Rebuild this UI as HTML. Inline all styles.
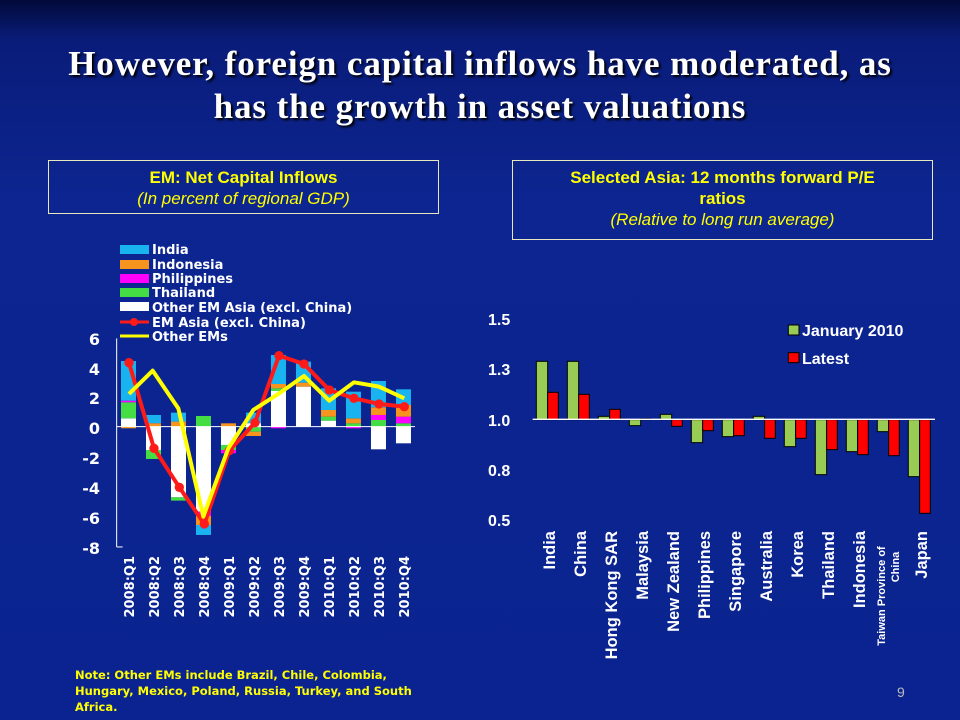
<!DOCTYPE html>
<html><head><meta charset="utf-8"><style>
html,body{margin:0;padding:0;width:960px;height:720px;overflow:hidden}
body{background:linear-gradient(180deg,#020a3a 0px,#0a1c7a 40px,#0c2590 200px,#0a2390 720px);position:relative;font-family:"Liberation Sans",sans-serif}
.t{position:absolute;left:0;width:960px;top:42px;text-align:center;font-family:"Liberation Serif",serif;font-weight:bold;font-size:35px;letter-spacing:0.9px;line-height:43px;color:#fff;text-shadow:2px 2px 2px #000}
.box{position:absolute;border:1px solid #e8e8c0;color:#ffff00;text-align:center;font-family:"Liberation Sans Narrow","Liberation Sans",sans-serif;font-size:17px;line-height:21px;font-weight:bold}
.box i{font-weight:normal}
</style></head><body>
<div class="t">However, foreign capital inflows have moderated, as<br>has the growth in asset valuations</div>
<div class="box" style="left:48px;top:160px;width:391px;height:54px;padding-top:6px;box-sizing:border-box">EM: Net Capital Inflows<br><i>(In percent of regional GDP)</i></div>
<div class="box" style="left:512px;top:160px;width:421px;height:80px;padding-top:6px;box-sizing:border-box">Selected Asia: 12 months forward P/E<br>ratios<br><i>(Relative to long run average)</i></div>
<svg width="960" height="720" style="position:absolute;left:0;top:0">
<g font-family="DejaVu Sans,sans-serif" font-weight="bold" font-size="13" fill="#fff">
<rect x="120" y="245" width="29" height="9" fill="#19b4f0"/><text x="152" y="254">India</text>
<rect x="120" y="260" width="29" height="9" fill="#f7941d"/><text x="152" y="269">Indonesia</text>
<rect x="120" y="274" width="29" height="9" fill="#ff00ff"/><text x="152" y="283">Philippines</text>
<rect x="120" y="288" width="29" height="9" fill="#44dd44"/><text x="152" y="297">Thailand</text>
<rect x="120" y="302" width="29" height="9" fill="#fff"/><text x="152" y="312">Other EM Asia (excl. China)</text>
<line x1="120" y1="322" x2="149" y2="322" stroke="#ff1a1a" stroke-width="3"/><circle cx="134" cy="322" r="4" fill="#ff1a1a"/><text x="152" y="327">EM Asia (excl. China)</text>
<line x1="120" y1="336" x2="149" y2="336" stroke="#ffff00" stroke-width="3"/><text x="152" y="341">Other EMs</text>
</g>
<g font-family="DejaVu Sans,sans-serif" font-weight="bold" font-size="16" fill="#fff" text-anchor="end">
<text x="100" y="345">6</text><text x="100" y="375">4</text><text x="100" y="404">2</text><text x="100" y="434">0</text><text x="100" y="464">-2</text><text x="100" y="494">-4</text><text x="100" y="524">-6</text><text x="100" y="554">-8</text>
</g>
<g transform="translate(60,240) scale(0.3333)">
<line x1="170" y1="295" x2="170" y2="921" stroke="#fff" stroke-width="3"/>
<line x1="170" y1="921" x2="188" y2="921" stroke="#fff" stroke-width="3"/>
<g>
<rect x="183" y="535" width="45" height="25" fill="#fff"/><rect x="183" y="487" width="45" height="48" fill="#44dd44"/><rect x="183" y="482" width="45" height="5" fill="#ff00ff"/><rect x="183" y="363" width="45" height="119" fill="#19b4f0"/><rect x="183" y="560" width="45" height="5" fill="#f7941d"/>
<rect x="258" y="525" width="45" height="25" fill="#19b4f0"/><rect x="258" y="550" width="45" height="10" fill="#f7941d"/><rect x="258" y="560" width="45" height="70" fill="#fff"/><rect x="258" y="630" width="45" height="27" fill="#44dd44"/>
<rect x="333" y="518" width="45" height="27" fill="#19b4f0"/><rect x="333" y="545" width="45" height="15" fill="#f7941d"/><rect x="333" y="560" width="45" height="212" fill="#fff"/><rect x="333" y="772" width="45" height="10" fill="#44dd44"/>
<rect x="408" y="528" width="45" height="32" fill="#44dd44"/><rect x="408" y="560" width="45" height="255" fill="#fff"/><rect x="408" y="815" width="45" height="13" fill="#ff00ff"/><rect x="408" y="828" width="45" height="27" fill="#f7941d"/><rect x="408" y="855" width="45" height="30" fill="#19b4f0"/>
<rect x="483" y="550" width="45" height="10" fill="#f7941d"/><rect x="483" y="560" width="45" height="55" fill="#fff"/><rect x="483" y="615" width="45" height="15" fill="#44dd44"/><rect x="483" y="630" width="45" height="10" fill="#ff00ff"/>
<rect x="558" y="518" width="45" height="32" fill="#19b4f0"/><rect x="558" y="550" width="45" height="10" fill="#fff"/><rect x="558" y="560" width="45" height="15" fill="#44dd44"/><rect x="558" y="575" width="45" height="13" fill="#f7941d"/>
<rect x="633" y="453" width="45" height="107" fill="#fff"/><rect x="633" y="445" width="45" height="8" fill="#44dd44"/><rect x="633" y="432" width="45" height="13" fill="#f7941d"/><rect x="633" y="345" width="45" height="87" fill="#19b4f0"/><rect x="633" y="560" width="45" height="5" fill="#ff00ff"/>
<rect x="708" y="440" width="45" height="120" fill="#fff"/><rect x="708" y="428" width="45" height="12" fill="#f7941d"/><rect x="708" y="365" width="45" height="63" fill="#19b4f0"/>
<rect x="783" y="542" width="45" height="18" fill="#fff"/><rect x="783" y="530" width="45" height="12" fill="#44dd44"/><rect x="783" y="510" width="45" height="20" fill="#f7941d"/><rect x="783" y="445" width="45" height="65" fill="#19b4f0"/>
<rect x="858" y="550" width="45" height="10" fill="#44dd44"/><rect x="858" y="535" width="45" height="15" fill="#f7941d"/><rect x="858" y="455" width="45" height="80" fill="#19b4f0"/><rect x="858" y="560" width="45" height="5" fill="#ff00ff"/>
<rect x="933" y="540" width="45" height="20" fill="#44dd44"/><rect x="933" y="525" width="45" height="15" fill="#ff00ff"/><rect x="933" y="502" width="45" height="23" fill="#f7941d"/><rect x="933" y="423" width="45" height="79" fill="#19b4f0"/><rect x="933" y="560" width="45" height="68" fill="#fff"/>
<rect x="1008" y="550" width="45" height="10" fill="#44dd44"/><rect x="1008" y="530" width="45" height="20" fill="#ff00ff"/><rect x="1008" y="495" width="45" height="35" fill="#f7941d"/><rect x="1008" y="448" width="45" height="47" fill="#19b4f0"/><rect x="1008" y="560" width="45" height="50" fill="#fff"/>
</g>
<line x1="170" y1="560" x2="1065" y2="560" stroke="#fff" stroke-width="3"/>
<polyline fill="none" stroke="#ff1a1a" stroke-width="12" stroke-linejoin="round" points="207,368 282,625 358,742 433,852 508,632 585,548 657,347 732,372 808,450 882,475 957,492 1033,500"/>
<g fill="#ff1a1a"><circle cx="207" cy="368" r="14"/><circle cx="282" cy="625" r="14"/><circle cx="358" cy="742" r="14"/><circle cx="433" cy="852" r="14"/><circle cx="508" cy="632" r="14"/><circle cx="585" cy="548" r="14"/><circle cx="657" cy="347" r="14"/><circle cx="732" cy="372" r="14"/><circle cx="808" cy="450" r="14"/><circle cx="882" cy="475" r="14"/><circle cx="957" cy="492" r="14"/><circle cx="1033" cy="500" r="14"/></g>
<polyline fill="none" stroke="#ffff00" stroke-width="12" stroke-linejoin="round" points="207,462 278,392 355,505 430,830 505,625 580,510 655,462 732,408 808,482 882,427 957,440 1033,475"/>
</g>
<g font-family="DejaVu Sans,sans-serif" font-weight="bold" font-size="13" fill="#fff" text-anchor="end">
<text transform="translate(134,556) rotate(-90)">2008:Q1</text>
<text transform="translate(159,556) rotate(-90)">2008:Q2</text>
<text transform="translate(184,556) rotate(-90)">2008:Q3</text>
<text transform="translate(209,556) rotate(-90)">2008:Q4</text>
<text transform="translate(234,556) rotate(-90)">2009:Q1</text>
<text transform="translate(259,556) rotate(-90)">2009:Q2</text>
<text transform="translate(284,556) rotate(-90)">2009:Q3</text>
<text transform="translate(309,556) rotate(-90)">2009:Q4</text>
<text transform="translate(334,556) rotate(-90)">2010:Q1</text>
<text transform="translate(359,556) rotate(-90)">2010:Q2</text>
<text transform="translate(384,556) rotate(-90)">2010:Q3</text>
<text transform="translate(409,556) rotate(-90)">2010:Q4</text>
</g>
<g font-family="DejaVu Sans,sans-serif" font-weight="bold" font-size="11.5" fill="#ffff00">
<text x="75" y="679">Note: Other EMs include Brazil, Chile, Colombia,</text>
<text x="75" y="695">Hungary, Mexico, Poland, Russia, Turkey, and South</text>
<text x="75" y="711">Africa.</text>
</g>
<text x="897" y="697" font-family="Liberation Sans,sans-serif" font-size="14" fill="#bbb">9</text>

<g font-family="Liberation Sans,sans-serif" font-weight="bold" font-size="16" fill="#fff">
<text x="488" y="325">1.5</text><text x="488" y="375">1.3</text><text x="488" y="426">1.0</text><text x="488" y="476">0.8</text><text x="488" y="526">0.5</text>
</g>
<g transform="translate(470,300) scale(0.3333)">
<g stroke="#000" stroke-width="3">
<rect x="199" y="184" width="34" height="175" fill="#99cc55"/><rect x="233" y="277" width="32" height="82" fill="#ff0000"/>
<rect x="292" y="184" width="34" height="175" fill="#99cc55"/><rect x="326" y="283" width="32" height="76" fill="#ff0000"/>
<rect x="385" y="349" width="34" height="10" fill="#99cc55"/><rect x="419" y="328" width="32" height="31" fill="#ff0000"/>
<rect x="478" y="359" width="34" height="18" fill="#99cc55"/><rect x="512" y="356" width="32" height="3" fill="#ff0000"/>
<rect x="571" y="343" width="34" height="16" fill="#99cc55"/><rect x="605" y="359" width="32" height="20" fill="#ff0000"/>
<rect x="664" y="359" width="34" height="69" fill="#99cc55"/><rect x="698" y="359" width="32" height="33" fill="#ff0000"/>
<rect x="757" y="359" width="34" height="51" fill="#99cc55"/><rect x="791" y="359" width="32" height="48" fill="#ff0000"/>
<rect x="850" y="349" width="34" height="10" fill="#99cc55"/><rect x="884" y="359" width="32" height="56" fill="#ff0000"/>
<rect x="943" y="359" width="34" height="81" fill="#99cc55"/><rect x="977" y="359" width="32" height="56" fill="#ff0000"/>
<rect x="1036" y="359" width="34" height="165" fill="#99cc55"/><rect x="1070" y="359" width="32" height="90" fill="#ff0000"/>
<rect x="1129" y="359" width="34" height="96" fill="#99cc55"/><rect x="1163" y="359" width="32" height="105" fill="#ff0000"/>
<rect x="1222" y="359" width="34" height="36" fill="#99cc55"/><rect x="1256" y="359" width="32" height="108" fill="#ff0000"/>
<rect x="1315" y="359" width="34" height="171" fill="#99cc55"/><rect x="1349" y="359" width="32" height="281" fill="#ff0000"/>
</g>
<line x1="188" y1="358" x2="1395" y2="358" stroke="#fff" stroke-width="4"/>
<rect x="955" y="75" width="32" height="30" fill="#99cc55" stroke="#000" stroke-width="3"/>
<rect x="955" y="158" width="32" height="30" fill="#ff0000" stroke="#000" stroke-width="3"/>
</g>
<g font-family="Liberation Sans,sans-serif" font-weight="bold" font-size="16" fill="#fff">
<text x="802" y="336">January 2010</text><text x="802" y="364">Latest</text>
</g>
<g font-family="Liberation Sans,sans-serif" font-weight="bold" font-size="16.5" fill="#fff" text-anchor="end">
<text transform="translate(555,531) rotate(-90)">India</text>
<text transform="translate(586,531) rotate(-90)">China</text>
<text transform="translate(617,531) rotate(-90)">Hong Kong SAR</text>
<text transform="translate(648,531) rotate(-90)">Malaysia</text>
<text transform="translate(679,531) rotate(-90)">New Zealand</text>
<text transform="translate(710,531) rotate(-90)">Philippines</text>
<text transform="translate(741,531) rotate(-90)">Singapore</text>
<text transform="translate(772,531) rotate(-90)">Australia</text>
<text transform="translate(803,531) rotate(-90)">Korea</text>
<text transform="translate(834,531) rotate(-90)">Thailand</text>
<text transform="translate(865,531) rotate(-90)">Indonesia</text>
<text transform="translate(927,531) rotate(-90)">Japan</text>
</g>
<g font-family="Liberation Sans,sans-serif" font-weight="bold" font-size="11" fill="#fff" text-anchor="middle">
<text transform="translate(885,596) rotate(-90)">Taiwan Province of</text>
<text transform="translate(899,567) rotate(-90)">China</text>
</g>
</svg>
</body></html>
